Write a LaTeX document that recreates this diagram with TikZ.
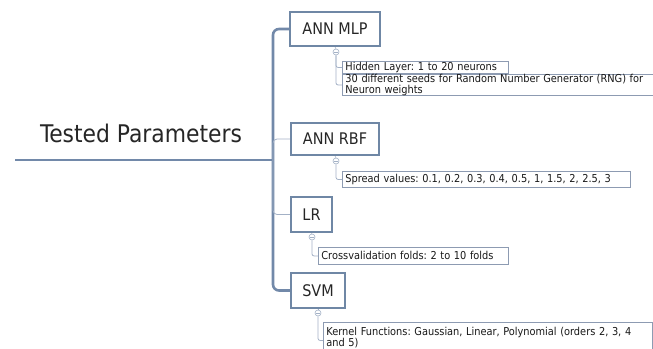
\documentclass[tikz,border=0pt]{standalone}
\usepackage{fontspec}
\setmainfont{DejaVu Sans Condensed}
\frenchspacing
\begin{document}
\begin{tikzpicture}[x=1pt,y=-1pt,
  trunkc/.style={draw=trunkcol, line width=2.6pt},
  bigbox/.style={draw=boxcol, line width=2.4pt, fill=white, inner sep=0pt, font=\fontsize{16}{19}\selectfont, text=black!85},
  subbox/.style={draw=subcol, line width=0.8pt, fill=white, anchor=north west, inner xsep=3pt, inner ysep=0pt, align=left, font=\fontsize{10.9}{10.5}\selectfont\frenchspacing, text=black!90},
  thin/.style={draw=thincol, line width=0.8pt, rounded corners=2pt},
  knob/.style={circle, draw=thincol, fill=white, line width=0.6pt, inner sep=0pt, minimum size=6pt}
]
\definecolor{trunkcol}{HTML}{7289A9}
\definecolor{boxcol}{HTML}{6F87A5}
\definecolor{subcol}{HTML}{8D9BB2}
\definecolor{thincol}{HTML}{A3B1C6}
\useasboundingbox (0,0) rectangle (653,348);
\clip (0,0) rectangle (653,348);

% title
\node[font=\fontsize{24.3}{27}\selectfont, text=black!85] (title) at (141,133) {Tested Parameters};
\coordinate (mainstart) at (15,160);
\coordinate (junction) at (273,160);

% big boxes
\node[bigbox, minimum width=90pt, minimum height=34pt] (mlp) at (335,29) {ANN MLP};
\node[bigbox, minimum width=88pt, minimum height=32pt] (rbf) at (335,139) {ANN RBF};
\node[bigbox, minimum width=41pt, minimum height=35pt] (lr) at (311.5,214.5) {LR};
\node[bigbox, minimum width=54pt, minimum height=35pt] (svm) at (318,290.5) {SVM};

% trunk
\draw[trunkc] (mainstart) -- (junction);
\draw[trunkc, rounded corners=6pt] (mlp.west) -| (junction) |- (svm.west);
\draw[thin, rounded corners=4pt] (junction) |- (rbf.west);
\draw[thin, rounded corners=4pt] (junction) |- (lr.west);

% knobs
\node[knob] (k1) at (336,52) {};
\node[knob] (k2) at (336,161) {};
\node[knob] (k3) at (312,237) {};
\node[knob] (k4) at (318,313) {};
\foreach \k in {k1,k2,k3,k4} {
  \draw[draw=thincol, line width=0.5pt] ([xshift=1pt]\k.west) -- ([xshift=-1pt]\k.east);
}
\draw[draw=thincol, line width=0.6pt] (mlp.south) -- (k1.north);
\draw[draw=thincol, line width=0.6pt] (rbf.south) -- (k2.north);
\draw[draw=thincol, line width=0.6pt] (lr.south) -- (k3.north);
\draw[draw=thincol, line width=0.6pt] (svm.south) -- (k4.north);

% sub boxes
\node[subbox, text width=160pt, minimum height=12pt] (h1) at (342,61) {Hidden Layer: 1 to 20 neurons};
\node[subbox, text width=305pt, minimum height=19pt] (h2) at (342,74) {30 different seeds for Random Number Generator (RNG) for\\Neuron weights};
\node[subbox, text width=282pt, minimum height=16pt] (sp) at (342,171) {Spread values: 0.1, 0.2, 0.3, 0.4, 0.5, 1, 1.5, 2, 2.5, 3};
\node[subbox, text width=184pt, minimum height=17pt] (cv) at (318,247) {Crossvalidation folds: 2 to 10 folds};
\node[subbox, text width=323pt, minimum height=30pt, font=\fontsize{10.9}{9.8}\selectfont] (kf) at (323,322) {Kernel Functions: Gaussian, Linear, Polynomial (orders 2, 3, 4\\and 5)};

% sub connectors
\draw[thin] (k1.south) |- (h1.west);
\draw[thin] (k1.south) |- (h2.west);
\draw[thin] (k2.south) |- (sp.west);
\draw[thin] (k3.south) |- (cv.west);
\draw[thin] (k4.south) |- ([yshift=-3pt]kf.west);
\end{tikzpicture}
\end{document}
